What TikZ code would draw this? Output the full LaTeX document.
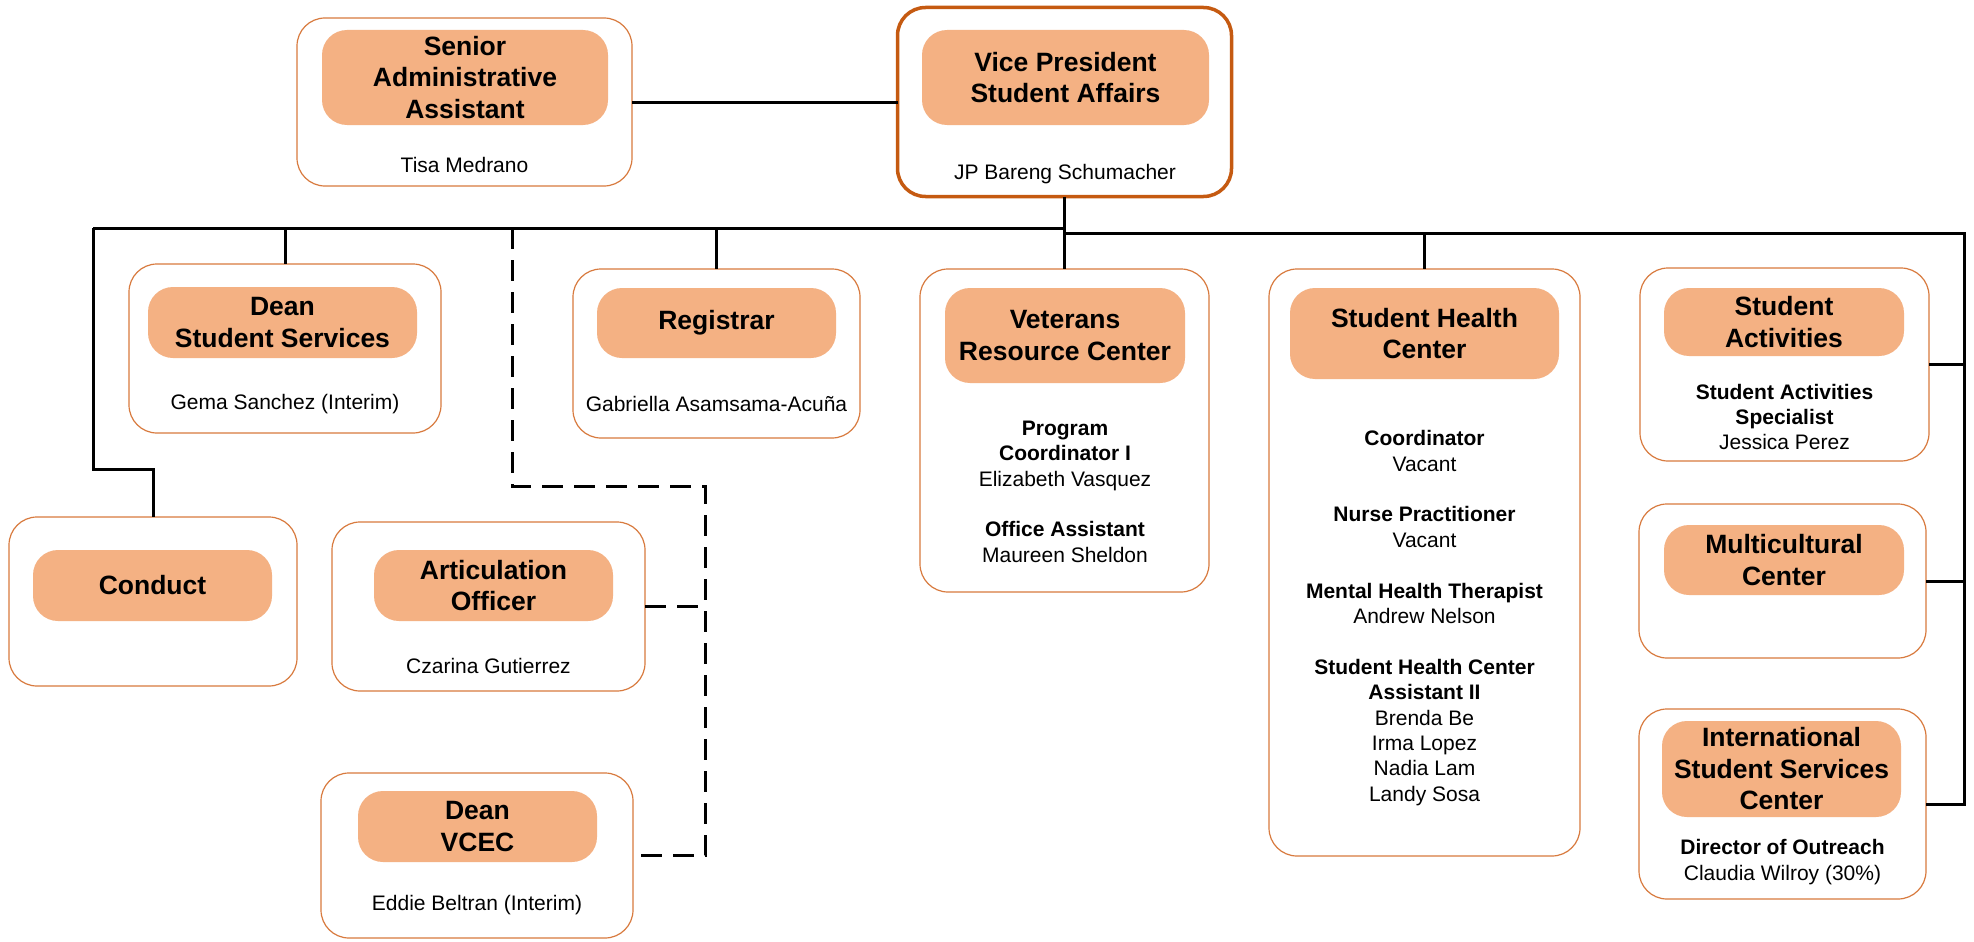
\documentclass[tikz,border=0pt]{standalone}
\usepackage{fontspec}
\setmainfont{Liberation Sans}
\definecolor{fillor}{HTML}{F4B183}
\definecolor{bord}{HTML}{C55A11}
\definecolor{bordlight}{HTML}{D87A3E}
\tikzset{
 outerbox/.style={draw=bordlight, line width=1.2pt, rounded corners=28pt, fill=white, inner sep=0pt, outer sep=0pt},
 vpbox/.style={outerbox, draw=bord, line width=3.5pt},
 innerbox/.style={fill=fillor, rounded corners=25pt, inner sep=0pt},
 ttl/.style={font=\fontsize{26.5}{31.5}\selectfont\bfseries, align=center, inner sep=0pt},
 bodytxt/.style={font=\fontsize{21}{25.4}\selectfont, align=center, inner sep=0pt},
 conn/.style={line width=3pt, black},
 dconn/.style={line width=3pt, black, dash pattern=on 21pt off 11pt},
}
\begin{document}
\begin{tikzpicture}[x=1pt,y=-1pt]
\useasboundingbox (0,0) rectangle (1974,942);
% outer boxes
\node[outerbox, minimum width=335pt, minimum height=168pt] (sen) at (464.5,102) {};
\node[vpbox, minimum width=334pt, minimum height=189pt] (vp) at (1064.5,102) {};
\node[outerbox, minimum width=312pt, minimum height=169pt] (dss) at (285,348.5) {};
\node[outerbox, minimum width=287pt, minimum height=169pt] (reg) at (716.5,353.5) {};
\node[outerbox, minimum width=289pt, minimum height=323pt] (vet) at (1064.5,430.5) {};
\node[outerbox, minimum width=311pt, minimum height=587pt] (shc) at (1424.5,562.5) {};
\node[outerbox, minimum width=289pt, minimum height=193pt] (sa) at (1784.5,364.5) {};
\node[outerbox, minimum width=287pt, minimum height=154pt] (mc) at (1782.5,581) {};
\node[outerbox, minimum width=287pt, minimum height=190pt] (intl) at (1782.5,804) {};
\node[outerbox, minimum width=288pt, minimum height=169pt] (con) at (153,601.5) {};
\node[outerbox, minimum width=313pt, minimum height=169pt] (art) at (488.5,606.5) {};
\node[outerbox, minimum width=312pt, minimum height=165pt] (vcec) at (477,855.5) {};
% inner boxes
\node[innerbox, minimum width=286pt, minimum height=95pt] (senI) at (465,77.5) {};
\node[innerbox, minimum width=287pt, minimum height=95pt] (vpI) at (1065.5,77.5) {};
\node[innerbox, minimum width=269pt, minimum height=71pt] (dssI) at (282.5,322.5) {};
\node[innerbox, minimum width=239pt, minimum height=70pt] (regI) at (716.5,323) {};
\node[innerbox, minimum width=240pt, minimum height=95pt] (vetI) at (1065,335.5) {};
\node[innerbox, minimum width=269pt, minimum height=91pt] (shcI) at (1424.5,333.5) {};
\node[innerbox, minimum width=240pt, minimum height=68pt] (saI) at (1784,322) {};
\node[innerbox, minimum width=240pt, minimum height=70pt] (mcI) at (1784,560) {};
\node[innerbox, minimum width=239pt, minimum height=96pt] (intlI) at (1781.5,769) {};
\node[innerbox, minimum width=239pt, minimum height=71pt] (conI) at (152.5,585.5) {};
\node[innerbox, minimum width=239pt, minimum height=71pt] (artI) at (493.5,585.5) {};
\node[innerbox, minimum width=239pt, minimum height=71pt] (vcecI) at (477.5,826.5) {};
% titles
\node[ttl] (senT) at (senI) {Senior\\Administrative\\Assistant};
\node[ttl] (vpT) at (vpI) {Vice President\\Student Affairs};
\node[ttl] (dssT) at (dssI) {Dean\\Student Services};
\node[ttl] (regT) at (regI) {Registrar};
\node[ttl] (vetT) at (vetI) {Veterans\\Resource Center};
\node[ttl] (shcT) at (shcI) {Student Health\\Center};
\node[ttl] (saT) at (saI) {Student\\Activities};
\node[ttl] (mcT) at (mcI) {Multicultural\\Center};
\node[ttl] (intlT) at (intlI) {International\\Student Services\\Center};
\node[ttl] (conT) at (conI) {Conduct};
\node[ttl] (artT) at (artI) {Articulation\\Officer};
\node[ttl] (vcecT) at (vcecI) {Dean\\VCEC};
% body texts
\node[bodytxt] (senN) at (464.5,165) {Tisa Medrano};
\node[bodytxt] (vpN) at (1065,174) {JP Bareng Schumacher};
\node[bodytxt] (dssN) at (285,404) {Gema Sanchez (Interim)};
\node[bodytxt] (regN) at (716.5,404) {Gabriella Asamsama-Acuña};
\node[bodytxt] (vetN) at (1065,491.6) {\textbf{Program}\\\textbf{Coordinator I}\\Elizabeth Vasquez\\[25.4pt]\textbf{Office Assistant}\\Maureen Sheldon};
\node[bodytxt] (shcN) at (1424.5,618) {\textbf{Coordinator}\\Vacant\\[25.4pt]\textbf{Nurse Practitioner}\\Vacant\\[25.4pt]\textbf{Mental Health Therapist}\\Andrew Nelson\\[25.4pt]\textbf{Student Health Center}\\\textbf{Assistant II}\\Brenda Be\\Irma Lopez\\Nadia Lam\\Landy Sosa};
\node[bodytxt] (saN) at (1784.5,417) {\textbf{Student Activities}\\\textbf{Specialist}\\Jessica Perez};
\node[bodytxt] (intlN) at (1782.5,862) {\textbf{Director of Outreach}\\Claudia Wilroy (30\%)};
\node[bodytxt] (artN) at (488.5,666) {Czarina Gutierrez};
\node[bodytxt] (vcecN) at (477,905) {Eddie Beltran (Interim)};
% bus coordinates
\coordinate (busL) at (93,228);
\coordinate (busM) at (1065,228);
\coordinate (busR0) at (1065,233);
\coordinate (busR) at (1964,233);
\coordinate (dashA) at (512,228);
\coordinate (dashB) at (512,486);
\coordinate (dashC) at (705,486);
\coordinate (conJ) at (93,469);
% connectors
\draw[conn] (sen.east) -- (vp.west);
\draw[conn] (vp.south) -- (vet.north);
\draw[conn] (busL) -- (busM);
\draw[conn] (busR0) -- (busR) |- (intl.east);
\draw[conn] (sa.east) -- (sa.east -| busR);
\draw[conn] (mc.east) -- (mc.east -| busR);
\draw[conn] (dss.north |- busL) -- (dss.north);
\draw[conn] (reg.north |- busL) -- (reg.north);
\draw[conn] (shc.north |- busR) -- (shc.north);
\draw[conn] (busL) -- (conJ) -| (con.north);
\draw[dconn] (dashA) -- (dashB) -- (dashC) |- (vcec.east);
\draw[dconn] (art.east) -- (art.east -| dashC);
\end{tikzpicture}
\end{document}
